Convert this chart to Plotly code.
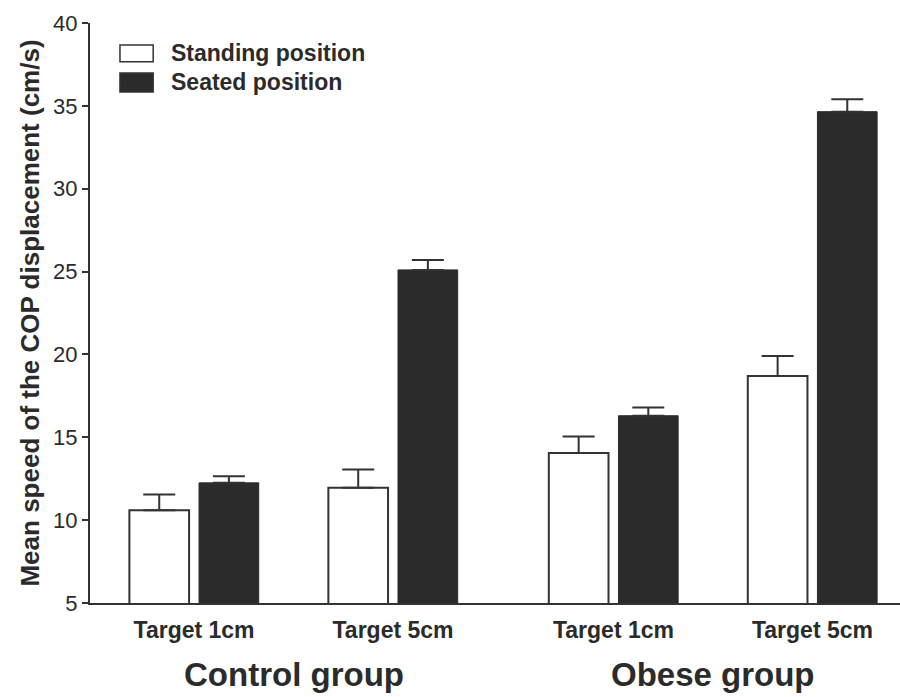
import plotly.graph_objects as go

# Mean COP speed (cm/s) with standard error, by group / target / position
conditions = ["Target 1cm", "Target 5cm", "Target 1cm", "Target 5cm"]
groups = ["Control group", "Obese group"]
standing_mean = [10.6, 11.95, 14.05, 18.7]
standing_se = [0.95, 1.1, 1.0, 1.2]
seated_mean = [12.25, 25.1, 16.3, 34.65]
seated_se = [0.4, 0.6, 0.5, 0.75]

# cluster centres: the two groups are separated by a slightly wider gap
group_gap = 0.108
centres = [i + (group_gap if i >= 2 else 0) for i in range(len(conditions))]
half = 0.175
bar_w = 0.30

ink = "#2b2b2b"
line_col = "#333333"
font_family = "Liberation Sans, Arial, sans-serif"

fig = go.Figure()
fig.add_trace(go.Bar(
    x=[c - half for c in centres], y=standing_mean, width=bar_w,
    name="Standing position",
    marker=dict(color="white", line=dict(color=line_col, width=2)),
    error_y=dict(type="data", symmetric=False, array=standing_se,
                 arrayminus=[0] * len(standing_se),
                 color=line_col, thickness=2, width=16),
    showlegend=False,
))
fig.add_trace(go.Bar(
    x=[c + half for c in centres], y=seated_mean, width=bar_w,
    name="Seated position",
    marker=dict(color=ink, line=dict(color=ink, width=1)),
    error_y=dict(type="data", symmetric=False, array=seated_se,
                 arrayminus=[0] * len(seated_se),
                 color=line_col, thickness=2, width=16),
    showlegend=False,
))

# hand-drawn legend with wide swatches
legend_items = [("Standing position", "white", 0.933, 0.962),
                ("Seated position", ink, 0.881, 0.914)]
for label, fill, y0, y1 in legend_items:
    fig.add_shape(type="rect", xref="paper", yref="paper",
                  x0=0.037, x1=0.078, y0=y0, y1=y1,
                  fillcolor=fill, line=dict(color=line_col, width=1.5))
    fig.add_annotation(xref="paper", yref="paper", x=0.098, y=(y0 + y1) / 2,
                       text=label, showarrow=False, xanchor="left",
                       yanchor="middle",
                       font=dict(family=font_family, size=23, color=ink,
                                 weight="bold"))

# group labels under the category ticks
group_x = [(centres[0] + centres[1]) / 2, (centres[2] + centres[3]) / 2]
for gx, g in zip(group_x, groups):
    fig.add_annotation(xref="x", yref="paper", x=gx, y=-0.124, text=g,
                       showarrow=False, xanchor="center", yanchor="middle",
                       font=dict(family=font_family, size=33, color=ink,
                                 weight="bold"))

fig.update_layout(
    width=900, height=697,
    margin=dict(l=90, r=0, t=23, b=94),
    paper_bgcolor="white", plot_bgcolor="white",
    font=dict(family=font_family, color=ink),
    barmode="overlay",
)
fig.update_xaxes(
    range=[-0.523, 3.548], tickvals=centres, ticktext=conditions,
    showgrid=False, zeroline=False, showline=True, linecolor=line_col,
    linewidth=2, ticks="", ticklabelstandoff=5,
    tickfont=dict(family=font_family, size=23, color=ink, weight="bold"),
)
fig.update_yaxes(
    range=[5, 40], tickvals=[5, 10, 15, 20, 25, 30, 35, 40],
    showgrid=False, zeroline=False, showline=True, linecolor=line_col,
    linewidth=2, ticks="outside", ticklen=6, tickwidth=2, tickcolor=line_col,
    tickfont=dict(family=font_family, size=22, color=ink),
    title=dict(text="Mean speed of the COP displacement (cm/s)", standoff=6,
               font=dict(family=font_family, size=26, color=ink,
                         weight="bold")),
)

fig.write_html("out.html")
